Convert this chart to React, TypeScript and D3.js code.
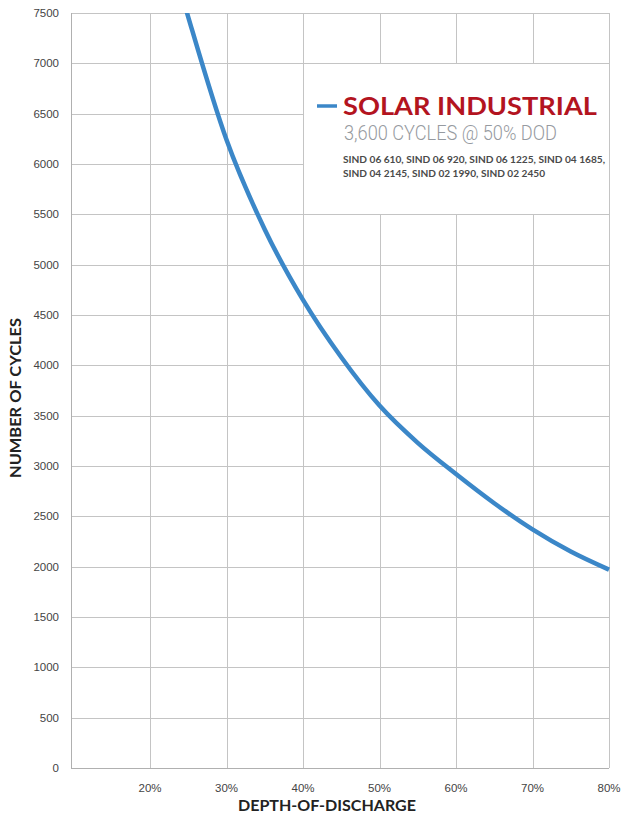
import React, { useEffect, useRef } from 'react';
import * as d3 from 'd3';

// depth of discharge (%) vs number of cycles
const dod = [24, 25, 30, 35, 40, 45, 50, 55, 60, 65, 70, 75, 80];
const cycles = [7720, 7460, 6240, 5350, 4650, 4080, 3600, 3230, 2920, 2630, 2370, 2150, 1970];

const xTicks = [20, 30, 40, 50, 60, 70, 80];
const yTicks = [0, 500, 1000, 1500, 2000, 2500, 3000, 3500, 4000, 4500, 5000, 5500, 6000, 6500, 7000, 7500];

const modelLines = [
  'SIND 06 610, SIND 06 920, SIND 06 1225, SIND 04 1685,',
  'SIND 04 2145, SIND 02 1990, SIND 02 2450',
];

const W = 621, H = 816;
const left = 71, right = 609, top = 13, bottom = 768;

export default function App() {
  const ref = useRef<SVGSVGElement>(null);

  useEffect(() => {
    const svg = d3.select(ref.current);
    svg.selectAll('*').remove();

    const x = d3.scaleLinear().domain([10, 80]).range([73.5, right]);
    const y = d3.scaleLinear().domain([0, 7500]).range([bottom, top]);

    const tickFont = '"Liberation Sans Narrow", "Liberation Sans", Arial, sans-serif';
    const boldFont = 'Lato, "Open Sans", sans-serif';

    // grid
    const grid = svg.append('g');
    grid.selectAll('line.h')
      .data(yTicks)
      .enter().append('line')
      .attr('x1', left).attr('x2', right)
      .attr('y1', d => Math.round(y(d)) + 0.5).attr('y2', d => Math.round(y(d)) + 0.5)
      .attr('stroke', '#c4c4c4').attr('stroke-width', 1);
    grid.selectAll('line.v')
      .data(xTicks)
      .enter().append('line')
      .attr('x1', d => Math.round(x(d)) + 0.5).attr('x2', d => Math.round(x(d)) + 0.5)
      .attr('y1', top).attr('y2', bottom)
      .attr('stroke', '#c4c4c4').attr('stroke-width', 1);
    // left + bottom axis lines
    svg.append('line').attr('x1', left + 0.5).attr('x2', left + 0.5).attr('y1', top).attr('y2', bottom)
      .attr('stroke', '#b0b0b0');
    svg.append('line').attr('x1', left).attr('x2', right).attr('y1', bottom + 0.5).attr('y2', bottom + 0.5)
      .attr('stroke', '#b0b0b0');

    // legend box blanks out grid between 40-80% and 5500-7000
    svg.append('rect')
      .attr('x', Math.round(x(40)) + 1)
      .attr('y', Math.round(y(7000)) + 1)
      .attr('width', Math.round(x(80)) - Math.round(x(40)) - 1)
      .attr('height', Math.round(y(5500)) - Math.round(y(7000)) - 1)
      .attr('fill', '#fff');

    // y tick labels
    svg.append('g').selectAll('text')
      .data(yTicks)
      .enter().append('text')
      .attr('x', 59).attr('y', d => y(d) + 4)
      .attr('text-anchor', 'end')
      .attr('font-family', tickFont).attr('font-size', 11.5)
      .attr('fill', '#444')
      .text(d => d);

    // x tick labels
    svg.append('g').selectAll('text')
      .data(xTicks)
      .enter().append('text')
      .attr('x', d => x(d)).attr('y', 792)
      .attr('text-anchor', 'middle')
      .attr('font-family', tickFont).attr('font-size', 11.5)
      .attr('fill', '#444')
      .text(d => d + '%');

    // curve
    const pts: [number, number][] = dod.map((d, i) => [d, cycles[i]]);
    svg.append('defs').append('clipPath').attr('id', 'plotclip')
      .append('rect').attr('x', left).attr('y', top).attr('width', right - left + 2).attr('height', bottom - top);
    const line = d3.line<[number, number]>()
      .x(d => x(d[0])).y(d => y(d[1]))
      .curve(d3.curveMonotoneX);
    svg.append('path')
      .datum(pts)
      .attr('clip-path', 'url(#plotclip)')
      .attr('d', line)
      .attr('fill', 'none')
      .attr('stroke', '#3b87c8')
      .attr('stroke-width', 4.5);

    // legend
    svg.append('line').attr('x1', 317).attr('x2', 337).attr('y1', 106).attr('y2', 106)
      .attr('stroke', '#3b87c8').attr('stroke-width', 3.5);
    svg.append('text')
      .attr('x', 343).attr('y', 115)
      .attr('font-family', boldFont).attr('font-weight', 700).attr('font-size', 25)
      .attr('fill', '#b3141f')
      .attr('textLength', 254).attr('lengthAdjust', 'spacingAndGlyphs')
      .text('SOLAR INDUSTRIAL');
    svg.append('text')
      .attr('x', 344).attr('y', 140)
      .attr('font-family', 'Roboto, sans-serif').attr('font-weight', 300).attr('font-size', 20.5)
      .attr('fill', '#969aa0')
      .attr('textLength', 213).attr('lengthAdjust', 'spacingAndGlyphs')
      .text('3,600 CYCLES @ 50% DOD');
    svg.append('g').selectAll('text')
      .data(modelLines)
      .enter().append('text')
      .attr('x', 343).attr('y', (d, i) => 163 + i * 14)
      .attr('font-family', boldFont).attr('font-weight', 700).attr('font-size', 9.5)
      .attr('fill', '#4a4a4a')
      .attr('textLength', (d, i) => (i === 0 ? 262 : 202)).attr('lengthAdjust', 'spacingAndGlyphs')
      .text(d => d);

    // axis titles
    svg.append('text')
      .attr('x', 327).attr('y', 811)
      .attr('text-anchor', 'middle')
      .attr('font-family', boldFont).attr('font-weight', 700).attr('font-size', 15)
      .attr('fill', '#222')
      .attr('textLength', 178).attr('lengthAdjust', 'spacingAndGlyphs')
      .text('DEPTH-OF-DISCHARGE');
    svg.append('text')
      .attr('transform', 'translate(21,398) rotate(-90)')
      .attr('text-anchor', 'middle')
      .attr('font-family', boldFont).attr('font-weight', 700).attr('font-size', 15)
      .attr('fill', '#222')
      .attr('textLength', 160).attr('lengthAdjust', 'spacingAndGlyphs')
      .text('NUMBER OF CYCLES');
  }, []);

  return (
    <svg ref={ref} width={W} height={H}
      style={{ position: 'absolute', left: 0, top: 0, background: '#fff' }} />
  );
}
